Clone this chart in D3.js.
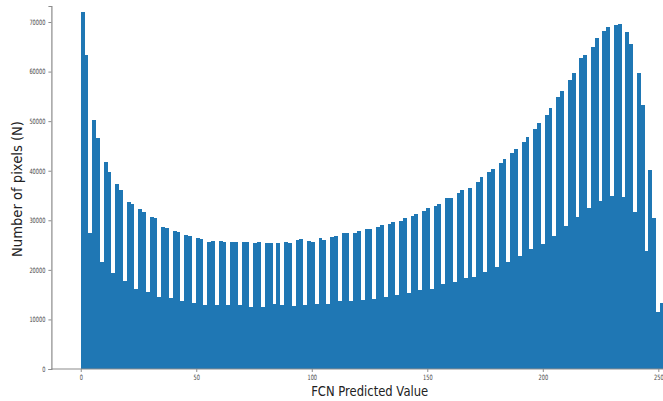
<!DOCTYPE html>
<html>
<head>
<meta charset="utf-8">
<script src="https://cdn.jsdelivr.net/npm/d3@7/dist/d3.min.js"></script>
<style>
  html, body { margin: 0; padding: 0; background: #fff; }
  svg { display: block; }
</style>
</head>
<body>
<svg id="chart" width="663" height="401"></svg>
<script>
// ---- data ----
const binStart = 0;
const binEnd = 254;
const binTotal = 153;
const counts = [
  72080, 63340, 27500, 50170, 46540, 21650, 41700, 39740, 19430, 37320,
  36110, 17810, 33700, 33350, 16200, 32200, 31700, 15530, 30600, 30400,
  14590, 28700, 28400, 14250, 27900, 27730, 13750, 27050, 26800, 13250,
  26490, 26160, 12910, 25690, 25890, 12910, 25820, 25550, 12910, 25620,
  25620, 12910, 25550, 25690, 12570, 25420, 25550, 12570, 25350, 25350,
  13050, 25350, 12910, 25690, 25350, 12710, 26020, 26160, 12910, 25890,
  25690, 13110, 26360, 26020, 13110, 26690, 26890, 13720, 27360, 27500,
  13720, 27500, 27900, 13920, 28300, 28300, 14120, 28580, 28980, 14520,
  29300, 29590, 14930, 29920, 30400, 15270, 30930, 31200, 15940, 31870,
  32410, 16200, 32880, 33220, 17150, 34560, 34560, 17610, 35440, 36110,
  18300, 36580, 18620, 37790, 38800, 19630, 39800, 40350, 20510, 41620,
  42300, 21650, 43640, 44380, 22860, 45860, 46740, 24150, 48420, 49630,
  25220, 51150, 52650, 26830, 54850, 56140, 28910, 58240, 59780, 30600,
  62800, 63350, 32540, 65020, 66710, 33830, 68250, 69060, 34840, 69400,
  69600, 34760, 68050, 65500, 31610, 59780, 53200, 23870, 40150, 30400,
  11570, 13380
];
const xTicks = [0, 50, 100, 150, 200, 250];
const yTicks = [0, 10000, 20000, 30000, 40000, 50000, 60000, 70000];
const xLabel = "FCN Predicted Value";
const yLabel = "Number of pixels (N)";

// ---- layout ----
const svg = d3.select("#chart");
const binW = (binEnd - binStart) / binTotal;
const bins = counts.map((c, i) => ({ x0: binStart + i * binW, x1: binStart + (i + 1) * binW, n: c }));

const x = d3.scaleLinear().domain([-12.7, 266.7]).range([51.4, 696.9]);
const y = d3.scaleLinear().domain([0, 73230]).range([369, 6]);

const barColor = "#1f77b4";
svg.append("g")
  .attr("shape-rendering", "crispEdges")
  .selectAll("rect")
  .data(bins)
  .join("rect")
  .attr("x", d => x(d.x0))
  .attr("width", d => x(d.x1) - x(d.x0))
  .attr("y", d => y(d.n))
  .attr("height", d => y(0) - y(d.n))
  .attr("fill", barColor);

const axisColor = "#8c8c8c";
const tickColor = "#444";

const gx = svg.append("g")
  .attr("transform", `translate(0,${y(0)})`)
  .call(d3.axisBottom(x).tickValues(xTicks).tickFormat(d3.format("d")).tickSize(3).tickPadding(2.5));
gx.select(".domain").attr("d", `M${x.range()[0]},0H${x.range()[1]}`);

const gy = svg.append("g")
  .attr("transform", `translate(${x.range()[0]},0)`)
  .call(d3.axisLeft(y).tickValues(yTicks).tickFormat(d3.format("d")).tickSize(3).tickPadding(3));

[gx, gy].forEach(g => {
  g.select(".domain").attr("stroke", axisColor).attr("stroke-width", 1.2);
  g.selectAll(".tick line").attr("stroke", axisColor);
  g.selectAll(".tick text")
    .attr("fill", tickColor)
    .attr("font-family", "DejaVu Sans")
    .attr("font-size", 7.3)
    .attr("lengthAdjust", "spacingAndGlyphs")
    .attr("textLength", function () { return this.textContent.length * 3.2; });
});

svg.append("text")
  .attr("x", 369.7)
  .attr("y", 396)
  .attr("text-anchor", "middle")
  .attr("font-family", "DejaVu Sans")
  .attr("font-size", 13.5)
  .attr("fill", "#222")
  .attr("lengthAdjust", "spacingAndGlyphs")
  .attr("textLength", 117)
  .text(xLabel);

svg.append("text")
  .attr("transform", "translate(21.5,189) rotate(-90)")
  .attr("text-anchor", "middle")
  .attr("font-family", "DejaVu Sans")
  .attr("font-size", 14.5)
  .attr("fill", "#222")
  .attr("lengthAdjust", "spacingAndGlyphs")
  .attr("textLength", 136)
  .text(yLabel);
</script>
</body>
</html>
